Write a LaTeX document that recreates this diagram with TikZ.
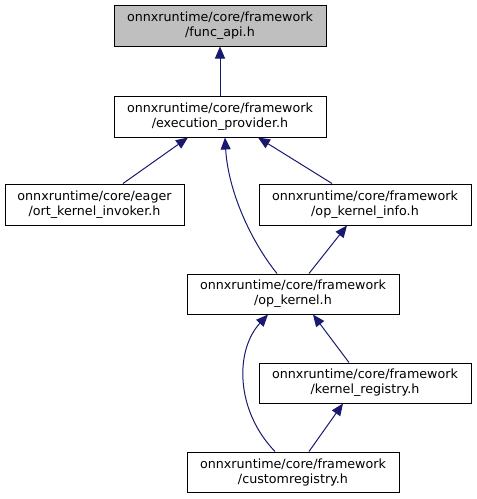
\documentclass[tikz,border=0pt]{standalone}
\usepackage{fontspec}
\setmainfont{DejaVu Sans}
\usetikzlibrary{arrows.meta,calc}
\definecolor{edgeblue}{HTML}{191970}
\definecolor{hlgray}{HTML}{BFBFBF}
\begin{document}
\begin{tikzpicture}[x=1pt,y=-1pt,
  filebox/.style={draw=black,line width=1pt,fill=white,rectangle,inner sep=0pt,
    minimum height=41pt,align=center,
    font=\fontsize{12.7pt}{15pt}\selectfont},
  wide/.style={minimum width=212pt},
  edge/.style={draw=edgeblue,line width=1pt,-{Triangle[length=12pt,width=10pt]}}]
\useasboundingbox (0,0) rectangle (477,499);
\node[filebox,wide,fill=hlgray] (func) at (220,25.5) {onnxruntime/core/framework\\/func\_api.h};
\node[filebox,wide] (exec) at (220,116.5) {onnxruntime/core/framework\\/execution\_provider.h};
\node[filebox,minimum width=179pt] (ort) at (94.5,204.5) {onnxruntime/core/eager\\/ort\_kernel\_invoker.h};
\node[filebox,wide] (info) at (365,204.5) {onnxruntime/core/framework\\/op\_kernel\_info.h};
\node[filebox,wide,minimum height=40pt] (opk) at (293,294) {onnxruntime/core/framework\\/op\_kernel.h};
\node[filebox,wide,minimum height=40pt] (kreg) at (365,383) {onnxruntime/core/framework\\/kernel\_registry.h};
\node[filebox,wide,minimum height=40pt] (cust) at (293,472) {onnxruntime/core/framework\\/customregistry.h};

\draw[edge] (exec.north) -- (func.south);
\draw[edge] ($(ort.north)+(28.5,0)$) -- ($(exec.south)+(-32,0)$);
\draw[edge] ($(info.north)+(-33,0)$) -- ($(exec.south)+(38,0)$);
\draw[edge] ($(opk.north)+(-16,0)$) .. controls (250,240) and (228,190) .. ($(exec.south)+(5,0)$);
\draw[edge] ($(opk.north)+(16,0)$) -- ($(info.south)+(-18,0)$);
\draw[edge] ($(kreg.north)+(-16,0)$) -- ($(opk.south)+(20,0)$);
\draw[edge] ($(cust.north)+(-18,0)$) .. controls (235,410) and (235,350) .. ($(opk.south)+(-25,0)$);
\draw[edge] ($(cust.north)+(16,0)$) -- ($(kreg.south)+(-22,0)$);
\end{tikzpicture}
\end{document}
